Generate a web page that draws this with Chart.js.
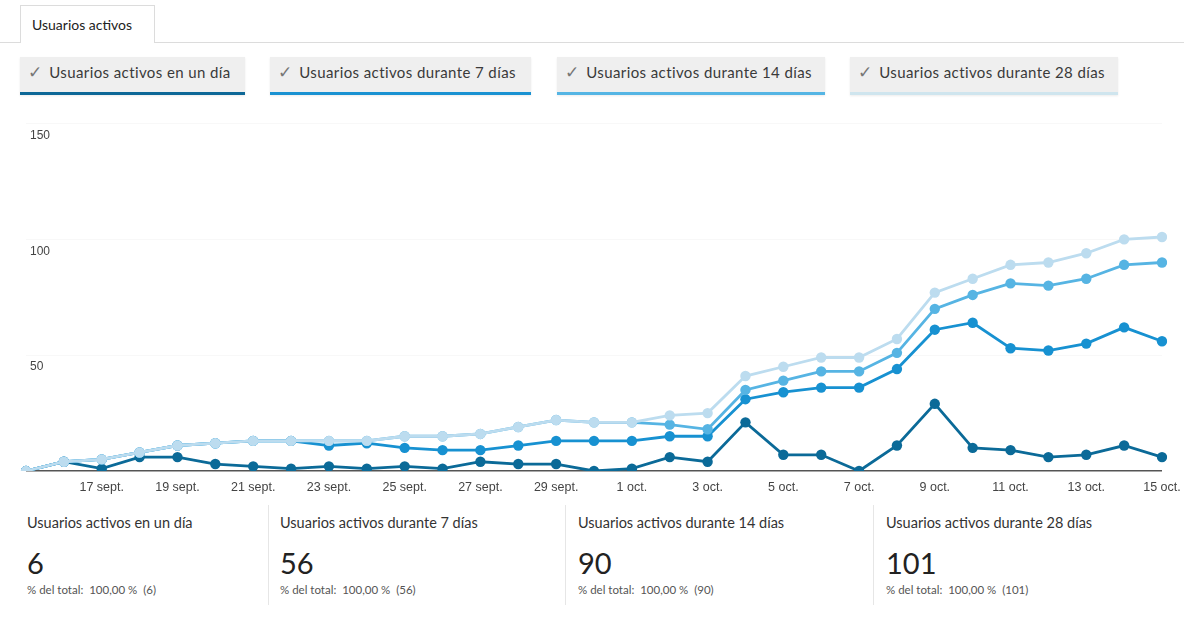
<!DOCTYPE html>
<html lang="es">
<head>
<meta charset="utf-8">
<title>Usuarios activos</title>
<script src="https://cdn.jsdelivr.net/npm/chart.js@4.4.1/dist/chart.umd.min.js"></script>
<style>
  body {
    margin: 0;
    width: 1184px;
    height: 617px;
    background: #fff;
    position: relative;
    overflow: hidden;
    font-family: Lato, 'Liberation Sans', sans-serif;
    color: #333;
  }
  .tab-line {
    position: absolute;
    left: 0;
    right: 0;
    top: 42px;
    border-top: 1px solid #dcdcdc;
  }
  .tab {
    position: absolute;
    left: 20px;
    top: 5px;
    width: 135px;
    height: 38px;
    box-sizing: border-box;
    border: 1px solid #dcdcdc;
    border-bottom: none;
    background: #fff;
    padding-left: 11px;
    font-size: 14px;
    line-height: 38px;
    color: #222;
  }
  .series-btn {
    position: absolute;
    top: 57px;
    height: 38px;
    box-sizing: border-box;
    background: #efefef;
    box-shadow: 0 1px 2px rgba(0, 0, 0, 0.08);
    padding-left: 8px;
    font-size: 15px;
    letter-spacing: 0.4px;
    line-height: 31px;
    color: #3a3a3a;
    white-space: nowrap;
  }
  .series-btn .check {
    font-family: 'DejaVu Sans', sans-serif;
    color: #777;
    font-size: 17px;
    margin-right: 7px;
    letter-spacing: 0;
  }
  #chartWrap {
    position: absolute;
    left: 0;
    top: 100px;
  }
  .summary {
    position: absolute;
    top: 505px;
    height: 100px;
  }
  .summary .title { position: absolute; top: 9px; font-size: 14.5px; color: #333; white-space: nowrap; }
  .summary .value { position: absolute; top: 40px; font-size: 29px; color: #222; }
  .summary .share { position: absolute; top: 78px; font-size: 11.5px; color: #555; white-space: nowrap; }
  .sep {
    position: absolute;
    top: 505px;
    width: 1px;
    height: 100px;
    background: #e6e6e6;
  }
</style>
</head>
<body>

<div class="tab-line"></div>
<div class="tab">Usuarios activos</div>
<div id="buttons"></div>

<div id="chartWrap"><canvas id="activeChart" width="1184" height="404"></canvas></div>

<div id="summaries"></div>

<script>
// Dates on the x axis (15 sept. - 15 oct.)
const dateLabels = [
  '15 sept.', '16 sept.', '17 sept.', '18 sept.', '19 sept.', '20 sept.', '21 sept.', '22 sept.',
  '23 sept.', '24 sept.', '25 sept.', '26 sept.', '27 sept.', '28 sept.', '29 sept.', '30 sept.',
  '1 oct.', '2 oct.', '3 oct.', '4 oct.', '5 oct.', '6 oct.', '7 oct.', '8 oct.',
  '9 oct.', '10 oct.', '11 oct.', '12 oct.', '13 oct.', '14 oct.', '15 oct.'
];

// Active users per window
const activeOneDay = [0, 4, 1, 6, 6, 3, 2, 1, 2, 1, 2, 1, 4, 3, 3, 0, 1, 6, 4, 21, 7, 7, 0, 11, 29, 10, 9, 6, 7, 11, 6];
const active7Days = [0, 4, 5, 8, 11, 12, 13, 13, 11, 12, 10, 9, 9, 11, 13, 13, 13, 15, 15, 31, 34, 36, 36, 44, 61, 64, 53, 52, 55, 62, 56];
const active14Days = [0, 4, 5, 8, 11, 12, 13, 13, 13, 13, 15, 15, 16, 19, 22, 21, 21, 20, 18, 35, 39, 43, 43, 51, 70, 76, 81, 80, 83, 89, 90];
const active28Days = [0, 4, 5, 8, 11, 12, 13, 13, 13, 13, 15, 15, 16, 19, 22, 21, 21, 24, 25, 41, 45, 49, 49, 57, 77, 83, 89, 90, 94, 100, 101];

// Y axis ticks
const yTicks = [0, 50, 100, 150];

const seriesNames = [
  'Usuarios activos en un día',
  'Usuarios activos durante 7 días',
  'Usuarios activos durante 14 días',
  'Usuarios activos durante 28 días'
];
const seriesData = [activeOneDay, active7Days, active14Days, active28Days];
const seriesColors = ['#0b6a98', '#1791d1', '#56b4e3', '#bcdcef'];
const underlineColors = ['#0e6897', '#1a92d2', '#55b5e4', '#cfe5ee'];

// Toggle buttons above the chart
const buttonBoxes = [[20, 225], [270, 261], [557, 268], [850, 268]];
const buttons = document.getElementById('buttons');
seriesNames.forEach((name, i) => {
  const div = document.createElement('div');
  div.className = 'series-btn';
  div.style.left = buttonBoxes[i][0] + 'px';
  div.style.width = buttonBoxes[i][1] + 'px';
  div.style.borderBottom = '3px solid ' + underlineColors[i];
  div.innerHTML = '<span class="check">✓</span>' + name;
  buttons.appendChild(div);
});

// Totals row under the chart
const summaryLeft = [27, 280, 578, 886];
const separators = [268, 565, 873];
const summaries = document.getElementById('summaries');
seriesNames.forEach((name, i) => {
  const last = seriesData[i][seriesData[i].length - 1];
  const div = document.createElement('div');
  div.className = 'summary';
  div.style.left = summaryLeft[i] + 'px';
  div.innerHTML =
    '<div class="title">' + name + '</div>' +
    '<div class="value">' + last + '</div>' +
    '<div class="share">% del total:&nbsp; 100,00 %&nbsp; (' + last + ')</div>';
  summaries.appendChild(div);
});
separators.forEach(x => {
  const s = document.createElement('div');
  s.className = 'sep';
  s.style.left = x + 'px';
  summaries.appendChild(s);
});

// Line chart
const ctx = document.getElementById('activeChart').getContext('2d');
new Chart(ctx, {
  type: 'line',
  data: {
    labels: dateLabels,
    datasets: seriesData.map((data, i) => ({
      label: seriesNames[i],
      data: data,
      borderColor: seriesColors[i],
      backgroundColor: seriesColors[i],
      pointBackgroundColor: seriesColors[i],
      pointBorderWidth: 0,
      pointRadius: 5.2,
      borderWidth: 2.8,
      tension: 0,
      fill: false,
      order: 4 - i
    }))
  },
  options: {
    responsive: false,
    animation: false,
    layout: { padding: { left: 18, right: 22, top: 23.5, bottom: 8 } },
    plugins: {
      legend: { display: false },
      tooltip: { enabled: false }
    },
    scales: {
      x: {
        offset: false,
        grid: { display: false },
        border: { display: false },
        ticks: {
          autoSkip: false,
          maxRotation: 0,
          padding: 1,
          color: '#444',
          font: { family: 'Liberation Sans', size: 12.5 },
          callback: (value, index) => (index >= 2 && index % 2 === 0) ? dateLabels[index] : ''
        }
      },
      y: {
        min: yTicks[0],
        max: yTicks[yTicks.length - 1],
        afterBuildTicks: axis => { axis.ticks = yTicks.map(v => ({ value: v })); },
        grid: {
          drawTicks: false,
          color: c => c.tick.value === 0 ? '#555' : '#f8f8f8',
          lineWidth: c => c.tick.value === 0 ? 1.5 : 1
        },
        border: { display: false },
        ticks: {
          mirror: true,
          labelOffset: 12,
          padding: 4,
          color: '#444',
          font: { family: 'Liberation Sans', size: 12 },
          callback: v => v === 0 ? '' : v
        }
      }
    }
  }
});
</script>
</body>
</html>
